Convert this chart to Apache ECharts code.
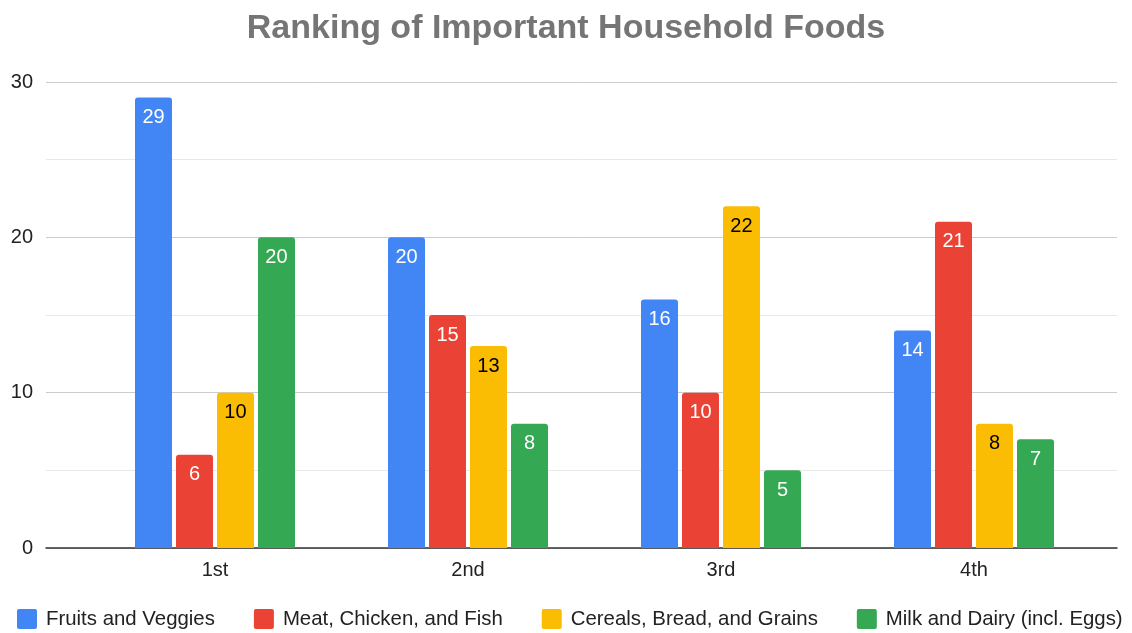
<!DOCTYPE html>
<html><head><meta charset="utf-8">
<script src="https://cdn.jsdelivr.net/npm/echarts@6/dist/echarts.min.js"></script>
<style>html,body{margin:0;padding:0;background:#fff}#c{width:1132px;height:633px}</style>
</head><body><div id="c"></div>
<script>
const categories = ['1st', '2nd', '3rd', '4th'];
const seriesNames = ['Fruits and Veggies', 'Meat, Chicken, and Fish', 'Cereals, Bread, and Grains', 'Milk and Dairy (incl. Eggs)'];
const fruitsVeggies = [29, 20, 16, 14];
const meatChickenFish = [6, 15, 10, 21];
const cerealsBreadGrains = [10, 13, 22, 8];
const milkDairy = [20, 8, 5, 7];
const yTicks = [0, 10, 20, 30];

const colors = ['#4285F4', '#EA4335', '#FBBC04', '#34A853'];
const labelColors = ['#ffffff', '#ffffff', '#000000', '#ffffff'];
const values = [fruitsVeggies, meatChickenFish, cerealsBreadGrains, milkDairy];
const FONT = 'Liberation Sans, Arial, sans-serif';

const chart = echarts.init(document.getElementById('c'), null, {renderer: 'canvas'});
chart.setOption({
  animation: false,
  backgroundColor: '#fff',
  color: colors,
  title: {
    text: 'Ranking of Important Household Foods',
    left: 'center', top: 7,
    textStyle: {fontFamily: FONT, fontSize: 34, fontWeight: 'bold', color: '#757575'}
  },
  legend: {
    bottom: -1, left: 12,
    itemWidth: 20, itemHeight: 20, itemGap: 39,
    icon: 'path://M2,0 H18 A2,2 0 0 1 20,2 V18 A2,2 0 0 1 18,20 H2 A2,2 0 0 1 0,18 V2 A2,2 0 0 1 2,0 Z',
    textStyle: {fontFamily: FONT, fontSize: 20.4, color: '#222', padding: [0, 0, 0, 4]},
    data: seriesNames
  },
  grid: [
    {left: 46, right: 15, top: 82, bottom: 85},
    {left: 88.5, right: 31.5, top: 82, bottom: 85}
  ],
  xAxis: [
    {gridIndex: 0, type: 'value', min: 0, max: 1, axisLine: {show: true, onZero: false, lineStyle: {color: '#333', width: 1.5}},
     axisTick: {show: false}, axisLabel: {show: false}, splitLine: {show: false}},
    {gridIndex: 1, type: 'category', data: categories, axisLine: {show: false}, axisTick: {show: false},
     axisLabel: {fontFamily: FONT, fontSize: 20, color: '#222', margin: 12}}
  ],
  yAxis: [
    {gridIndex: 0, type: 'value', min: yTicks[0], max: yTicks[yTicks.length - 1], interval: 10,
     axisLine: {show: false}, axisTick: {show: false},
     axisLabel: {fontFamily: FONT, fontSize: 20, color: '#222', margin: 13},
     splitLine: {lineStyle: {color: '#cccccc', width: 1}},
     minorTick: {show: false, splitNumber: 2},
     minorSplitLine: {show: true, lineStyle: {color: '#e8e8e8', width: 1}}},
    {gridIndex: 1, type: 'value', min: yTicks[0], max: yTicks[yTicks.length - 1], interval: 10, show: false}
  ],
  series: values.map((v, i) => ({
    name: seriesNames[i], type: 'bar', xAxisIndex: 1, yAxisIndex: 1,
    data: v, barWidth: 37, barGap: '10.8%',
    itemStyle: {color: colors[i], borderRadius: [3, 3, 0, 0]},
    label: {show: true, position: 'insideTop', distance: 10, fontFamily: FONT, fontSize: 20, color: labelColors[i]}
  }))
});
</script></body></html>
